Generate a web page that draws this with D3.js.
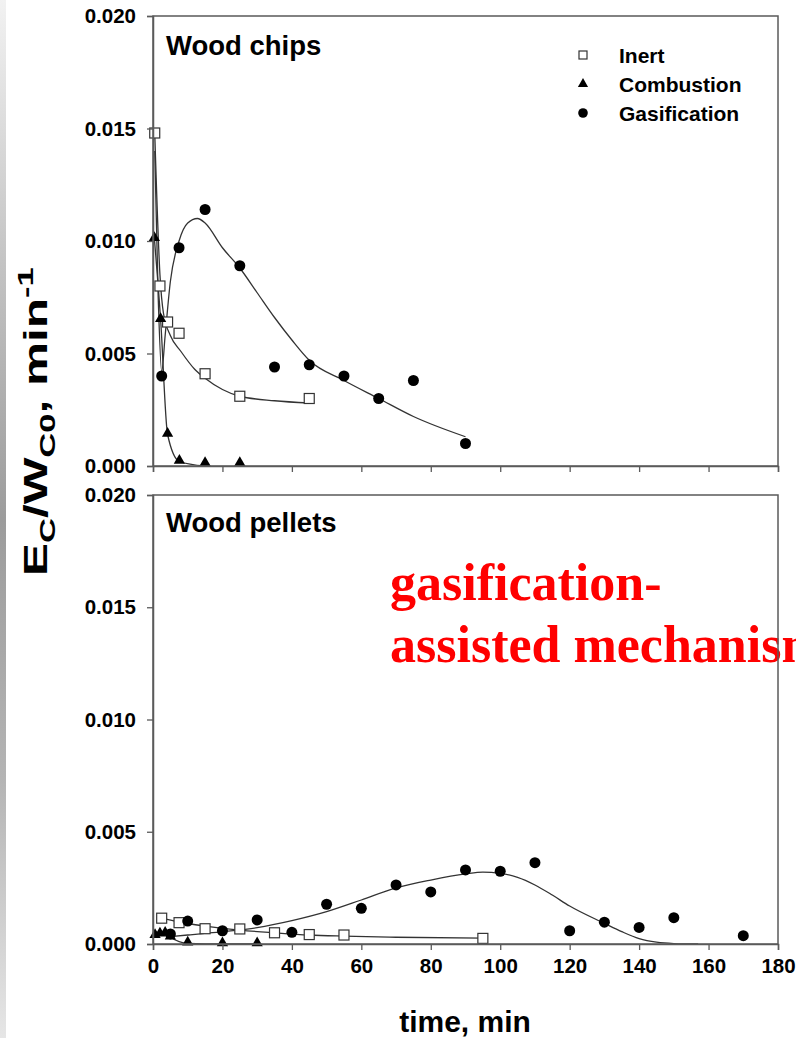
<!DOCTYPE html>
<html><head><meta charset="utf-8">
<script src="https://cdn.jsdelivr.net/npm/d3@7"></script>
<style>
html,body{margin:0;padding:0;background:#fff;}
svg{display:block;}
</style></head>
<body>
<script>
// ---------- DATA ----------
const xTicks = [0,20,40,60,80,100,120,140,160,180];
const yTicks = [0.000,0.005,0.010,0.015,0.020];
const legendLabels = ["Inert","Combustion","Gasification"];
const panelTitles = ["Wood chips","Wood pellets"];

// Wood chips (top)
const chipsInertT = [0.5,2,4.2,7.5,15,25,45];
const chipsInertV = [0.0148,0.0080,0.0064,0.0059,0.0041,0.0031,0.0030];
const chipsInertFitT = [0.5,2,3,5,8,12,15,20,25,35,45];
const chipsInertFitV = [0.0148,0.0085,0.0068,0.0058,0.0051,0.0043,0.0039,0.0034,0.0031,0.0029,0.0028];

const chipsCombT = [0.4,2.2,4.2,7.6,15,25];
const chipsCombV = [0.0101,0.0065,0.0014,0.0002,0.0001,0.0001];
const chipsCombFitT = [0.4,2.2,4.2,7.6,15];
const chipsCombFitV = [0.0101,0.0065,0.0014,0.0002,0.0000];

const chipsGasT = [2.5,7.5,15,25,35,45,55,65,75,90];
const chipsGasV = [0.0040,0.0097,0.0114,0.0089,0.0044,0.0045,0.0040,0.0030,0.0038,0.0010];
const chipsGasFitT = [0.5,1.5,2.5,3.5,5,7.5,10,12.8,15,20,25,30,35,40,45,55,65,75,90];
const chipsGasFitV = [0.0140,0.0075,0.0042,0.0058,0.0082,0.0100,0.0108,0.0110,0.0108,0.0097,0.0088,0.0077,0.0066,0.0056,0.0047,0.0038,0.0030,0.0022,0.0013];

// Wood pellets (bottom)
const pelInertT = [2.5,7.5,15,25,35,45,55,95];
const pelInertV = [0.00115,0.00095,0.00068,0.00067,0.00050,0.00042,0.00040,0.00025];
const pelInertFitT = [2.5,7.5,15,25,35,45,55,70,95];
const pelInertFitV = [0.00115,0.00098,0.00080,0.00062,0.00050,0.00040,0.00035,0.00030,0.00026];

const pelCombT = [0.6,2,3.5,5,10,20,30];
const pelCombV = [0.00037,0.00043,0.00047,0.00030,0.00003,0.0,0.0];
const pelCombFitT = [0.6,2,3.5,5,10,20,30];
const pelCombFitV = [0.00037,0.00043,0.00047,0.00030,0.00003,0.0,0.0];

const pelGasT = [5,10,20,30,40,50,60,70,80,90,100,110,120,130,140,150,170];
const pelGasV = [0.00045,0.00102,0.00059,0.00107,0.00052,0.00177,0.00159,0.00263,0.00232,0.00330,0.00324,0.00362,0.00059,0.00097,0.00074,0.00117,0.00037];
const pelGasFitT = [5,10,20,30,40,50,60,70,80,90,95,100,105,110,115,120,130,135,140,145,150,157];
const pelGasFitV = [0.00033,0.00040,0.00055,0.00073,0.00104,0.00144,0.00196,0.00250,0.00285,0.00312,0.00320,0.00315,0.00297,0.00263,0.00218,0.00169,0.00092,0.00055,0.00024,0.00008,0.00002,0.0];

const annotLines = ["gasification-","assisted mechanism"];

// ---------- LAYOUT ----------
const W = 796, H = 1038;
const svg = d3.select("body").append("svg").attr("width",W).attr("height",H);

const defs = svg.append("defs");
const grad = defs.append("linearGradient").attr("id","edge").attr("x1",0).attr("x2",0).attr("y1",0).attr("y2",1);
[[0,"#f2f2f2"],[0.25,"#c4c4c4"],[0.5,"#9c9c9c"],[0.75,"#b4b4b4"],[1,"#e6e6e6"]].forEach(([o,c])=>grad.append("stop").attr("offset",o).attr("stop-color",c));
svg.append("rect").attr("x",0).attr("y",0).attr("width",6).attr("height",H).attr("fill","url(#edge)");

const x = d3.scaleLinear().domain([0,180]).range([153,778]);
const yTop = d3.scaleLinear().domain([0,0.02]).range([466,16]);
const yBot = d3.scaleLinear().domain([0,0.02]).range([944,495]);

const AXIS = "#5a5a5a", LINE = "#333";
const FONT = "Liberation Sans, Arial, sans-serif";

function zip(t,v){ return t.map((d,i)=>[d,v[i]]); }

function drawPanel(y, cfg){
  const g = svg.append("g");
  const line = d3.line().x(d=>x(d[0])).y(d=>y(d[1])).curve(d3.curveMonotoneX);
  cfg.fits.forEach(f=>{
    g.append("path").datum(zip(f[0],f[1])).attr("d",line)
      .attr("fill","none").attr("stroke",LINE).attr("stroke-width",1.3);
  });
  g.selectAll(null).data(zip(cfg.inert[0],cfg.inert[1])).join("rect")
    .attr("x",d=>x(d[0])-5).attr("y",d=>y(d[1])-5).attr("width",10).attr("height",10)
    .attr("fill","#fff").attr("stroke",LINE).attr("stroke-width",1.2);
  const tri = d3.symbol().type(d3.symbolTriangle).size(55);
  g.selectAll(null).data(zip(cfg.comb[0],cfg.comb[1])).join("path")
    .attr("d",tri).attr("transform",d=>`translate(${x(d[0])},${y(d[1])-1})`).attr("fill","#000");
  g.selectAll(null).data(zip(cfg.gas[0],cfg.gas[1])).join("circle")
    .attr("cx",d=>x(d[0])).attr("cy",d=>y(d[1])).attr("r",5.5).attr("fill","#000");
}

drawPanel(yTop,{
  fits:[[chipsInertFitT,chipsInertFitV],[chipsCombFitT,chipsCombFitV],[chipsGasFitT,chipsGasFitV]],
  inert:[chipsInertT,chipsInertV], comb:[chipsCombT,chipsCombV], gas:[chipsGasT,chipsGasV]
});
drawPanel(yBot,{
  fits:[[pelInertFitT,pelInertFitV],[pelCombFitT,pelCombFitV],[pelGasFitT,pelGasFitV]],
  inert:[pelInertT,pelInertV], comb:[pelCombT,pelCombV], gas:[pelGasT,pelGasV]
});

// red annotation (runs past the right edge, as in the reference)
const ann = svg.append("text").attr("x",390).attr("y",600)
  .attr("font-family","Liberation Serif, Times New Roman, serif").attr("font-weight","bold")
  .attr("font-size",52).attr("fill","#ff0000");
annotLines.forEach((s,i)=>ann.append("tspan").attr("x",390).attr("y",600+i*62).text(s));

function axes(y, showXLabels){
  const yr = y.range();
  svg.append("rect").attr("x",153).attr("y",yr[1]).attr("width",778-153).attr("height",yr[0]-yr[1])
    .attr("fill","none").attr("stroke",AXIS).attr("stroke-width",1.5);
  const ga = svg.append("g").attr("transform","translate(153,0)")
    .call(d3.axisLeft(y).tickValues(yTicks).tickFormat(d3.format(".3f")).tickSize(6).tickPadding(11));
  const gb = svg.append("g").attr("transform",`translate(0,${yr[0]})`)
    .call(d3.axisBottom(x).tickValues(xTicks).tickFormat(showXLabels?d3.format("d"):"").tickSize(6).tickPadding(8));
  [ga,gb].forEach(a=>{
    a.select(".domain").attr("stroke",AXIS).attr("stroke-width",1.5);
    a.selectAll(".tick line").attr("stroke",AXIS).attr("stroke-width",1.3);
    a.selectAll(".tick text").attr("fill","#000").attr("font-family",FONT).attr("font-weight","bold").attr("font-size",20.5);
  });
}
axes(yTop,false);
axes(yBot,true);

svg.append("text").attr("x",166).attr("y",55).text(panelTitles[0])
  .attr("font-family",FONT).attr("font-weight","bold").attr("font-size",27.5);
svg.append("text").attr("x",166).attr("y",532).text(panelTitles[1])
  .attr("font-family",FONT).attr("font-weight","bold").attr("font-size",27.5);

const lg = svg.append("g");
const ly = [55,84,113];
lg.append("rect").attr("x",583-4).attr("y",ly[0]-4).attr("width",8).attr("height",8)
  .attr("fill","#fff").attr("stroke",LINE).attr("stroke-width",1.2);
lg.append("path").attr("d",d3.symbol().type(d3.symbolTriangle).size(45)).attr("transform",`translate(583,${ly[1]})`).attr("fill","#000");
lg.append("circle").attr("cx",583).attr("cy",ly[2]).attr("r",4.8).attr("fill","#000");
legendLabels.forEach((s,i)=>lg.append("text").attr("x",619).attr("y",ly[i]+8).text(s)
  .attr("font-family",FONT).attr("font-weight","bold").attr("font-size",21));

svg.append("text").attr("x",465).attr("y",1032).attr("text-anchor","middle").text("time, min")
  .attr("font-family",FONT).attr("font-weight","bold").attr("font-size",30);

// y-axis title, stretched along its length like the reference
const yl = svg.append("text").attr("transform","translate(47,576) rotate(-90) scale(1.5,1)")
  .attr("font-family",FONT).attr("font-weight","bold").attr("font-size",33);
yl.append("tspan").text("E");
yl.append("tspan").attr("dy",8).attr("font-size",23).text("C");
yl.append("tspan").attr("dy",-8).text("/W");
yl.append("tspan").attr("dy",8).attr("font-size",23).text("C0");
yl.append("tspan").attr("dy",-8).text(", min");
yl.append("tspan").attr("dy",-14).attr("font-size",23).text("-1");
</script>
</body></html>
